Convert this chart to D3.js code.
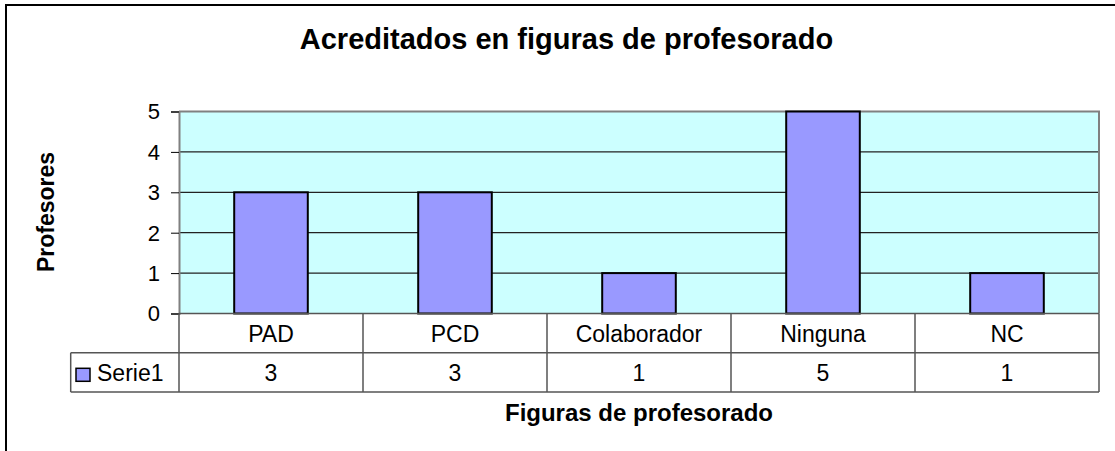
<!DOCTYPE html>
<html>
<head>
<meta charset="utf-8">
<script src="https://cdn.jsdelivr.net/npm/d3@7"></script>
<style>
  body { margin: 0; background: #fff; }
  text { font-family: Arial, "Liberation Sans", sans-serif; }
</style>
</head>
<body>
<div id="graphContainer"></div>
<script>
// Data
var categories = ["PAD", "PCD", "Colaborador", "Ninguna", "NC"];
var serie1 = [3, 3, 1, 5, 1];
var yTicks = [0, 1, 2, 3, 4, 5];
var seriesName = "Serie1";
var title = "Acreditados en figuras de profesorado";
var xTitle = "Figuras de profesorado";
var yTitle = "Profesores";

var width = 1115, height = 451;
var plotLeft = 179, plotRight = 1099, plotTop = 111.5, plotBottom = 313.5;
var rowH = 39.3;

var svg = d3.select("#graphContainer")
    .append("svg")
    .attr("width", width)
    .attr("height", height);

// outer chart frame (runs off the right/bottom edge)
svg.append("rect")
    .attr("x", 6).attr("y", 5)
    .attr("width", 1200).attr("height", 600)
    .attr("fill", "#fff")
    .attr("stroke", "#000")
    .attr("stroke-width", 2);

var xScale = d3.scaleBand()
    .domain(categories)
    .range([plotLeft, plotRight])
    .paddingInner(0.6)
    .paddingOuter(0.3);

var colScale = d3.scaleBand()
    .domain(categories)
    .range([plotLeft, plotRight]);

var yScale = d3.scaleLinear()
    .domain([0, 5])
    .range([plotBottom, plotTop]);

// plot background
svg.append("rect")
    .attr("x", plotLeft).attr("y", plotTop)
    .attr("width", plotRight - plotLeft)
    .attr("height", plotBottom - plotTop)
    .attr("fill", "#CCFFFF");

// gridlines
svg.selectAll(".grid")
    .data(yTicks.filter(function(d) { return d > 0 && d < 5; }))
    .join("line")
    .attr("class", "grid")
    .attr("x1", plotLeft).attr("x2", plotRight)
    .attr("y1", function(d) { return yScale(d); })
    .attr("y2", function(d) { return yScale(d); })
    .attr("stroke", "#222")
    .attr("stroke-width", 1.3);

// plot border top + right
svg.append("path")
    .attr("d", `M${plotLeft},${plotTop} H${plotRight} V${plotBottom}`)
    .attr("fill", "none")
    .attr("stroke", "#808080")
    .attr("stroke-width", 2);

// bars
svg.selectAll(".bar")
    .data(serie1)
    .join("rect")
    .attr("class", "bar")
    .attr("x", function(d, i) { return xScale(categories[i]); })
    .attr("y", function(d) { return yScale(d); })
    .attr("width", xScale.bandwidth())
    .attr("height", function(d) { return plotBottom - yScale(d); })
    .attr("fill", "#9999FF")
    .attr("stroke", "#000")
    .attr("stroke-width", 2);

// y axis
var y = d3.axisLeft(yScale).tickValues(yTicks).tickFormat(d3.format("d")).tickSize(8).tickPadding(11);
svg.append("g")
    .attr("id", "y-axis")
    .attr("transform", `translate(${plotLeft}, 0)`)
    .call(y);

d3.select("#y-axis").select(".domain")
    .attr("stroke", "#808080")
    .attr("stroke-width", 2);
d3.select("#y-axis").selectAll(".tick line")
    .attr("stroke", "#000");
d3.select("#y-axis").selectAll(".tick text")
    .attr("font-size", 22)
    .attr("font-family", "Arial, 'Liberation Sans', sans-serif")
    .attr("fill", "#000")
    .attr("dy", "0.34em");

// data table under the axis
var tbl = svg.append("g").attr("id", "data-table");
var r1 = plotBottom, r2 = plotBottom + rowH, r3 = plotBottom + 2 * rowH;
var legendLeft = 70.7;

tbl.append("path")
    .attr("d", `M${plotLeft},${r1} H${plotRight} M${legendLeft},${r2} H${plotRight} M${legendLeft},${r3} H${plotRight} M${legendLeft},${r2} V${r3}`)
    .attr("fill", "none")
    .attr("stroke", "#555")
    .attr("stroke-width", 1.5);

tbl.selectAll(".col-line")
    .data(categories.concat(["end"]))
    .join("line")
    .attr("class", "col-line")
    .attr("x1", function(d, i) { return i < categories.length ? colScale(d) : plotRight; })
    .attr("x2", function(d, i) { return i < categories.length ? colScale(d) : plotRight; })
    .attr("y1", r1).attr("y2", r3)
    .attr("stroke", "#555")
    .attr("stroke-width", 1.5);

tbl.selectAll(".cat-label")
    .data(categories)
    .join("text")
    .attr("class", "cat-label")
    .attr("x", function(d) { return colScale(d) + colScale.bandwidth() / 2; })
    .attr("y", r1 + 28)
    .attr("text-anchor", "middle")
    .attr("font-size", 23)
    .text(function(d) { return d; });

tbl.selectAll(".val-label")
    .data(serie1)
    .join("text")
    .attr("class", "val-label")
    .attr("x", function(d, i) { return colScale(categories[i]) + colScale.bandwidth() / 2; })
    .attr("y", r2 + 28)
    .attr("text-anchor", "middle")
    .attr("font-size", 23)
    .text(function(d) { return d; });

// legend key inside the table
tbl.append("rect")
    .attr("x", 76).attr("y", r2 + 15.5)
    .attr("width", 14).attr("height", 13)
    .attr("fill", "#9999FF")
    .attr("stroke", "#000")
    .attr("stroke-width", 1.5);
tbl.append("text")
    .attr("x", 97)
    .attr("y", r2 + 28)
    .attr("font-size", 23)
    .text(seriesName);

// titles
svg.append("text")
    .attr("x", 566.5)
    .attr("y", 49)
    .attr("text-anchor", "middle")
    .attr("font-size", 29)
    .attr("font-weight", "bold")
    .text(title);

svg.append("text")
    .attr("x", (plotLeft + plotRight) / 2)
    .attr("y", 421)
    .attr("text-anchor", "middle")
    .attr("font-size", 24)
    .attr("font-weight", "bold")
    .text(xTitle);

svg.append("text")
    .attr("transform", `translate(54, 212) rotate(-90)`)
    .attr("text-anchor", "middle")
    .attr("font-size", 23)
    .attr("font-weight", "bold")
    .text(yTitle);
</script>
</body>
</html>
